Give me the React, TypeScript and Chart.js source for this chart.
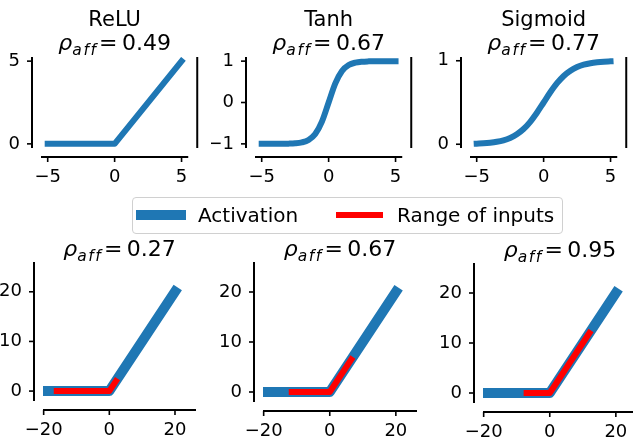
import React, { useEffect, useRef } from "react";
import { Chart, registerables } from "chart.js";

Chart.register(...registerables);

// ---------------- data ----------------
const topTitles = ["ReLU", "Tanh", "Sigmoid"];
const topRho = ["0.49", "0.67", "0.77"];
const bottomRho = ["0.27", "0.67", "0.95"];

const reluTopX = [-5, 0, 5];
const reluTopY = [0, 0, 5];

const curveX = [-5, -4.5, -4, -3.5, -3, -2.5, -2, -1.5, -1, -0.5, 0, 0.5, 1, 1.5, 2, 2.5, 3, 3.5, 4, 4.5, 5];
const tanhY = [-1.0, -1.0, -0.999, -0.998, -0.995, -0.987, -0.964, -0.905, -0.762, -0.462, 0, 0.462, 0.762, 0.905, 0.964, 0.987, 0.995, 0.998, 0.999, 1.0, 1.0];
const sigmoidY = [0.007, 0.011, 0.018, 0.029, 0.047, 0.076, 0.119, 0.182, 0.269, 0.378, 0.5, 0.622, 0.731, 0.818, 0.881, 0.924, 0.953, 0.971, 0.982, 0.989, 0.993];

const reluBottomX = [-20, 0, 20];
const reluBottomY = [0, 0, 20];
const inputLows = [-16, -11.5, -7];
const inputHighs = [2, 6.5, 12];

const topXTicks = [-5, 0, 5];
const reluYTicks = [0, 5];
const tanhYTicks = [-1, 0, 1];
const sigmoidYTicks = [0, 1];
const bottomXTicks = [-20, 0, 20];
const bottomYTicks = [0, 10, 20];

const topXLim = [-5.5, 5.5];
const reluYLim = [-0.25, 5.25];
const tanhYLim = [-1.1, 1.1];
const sigmoidYLim = [-0.045, 1.045];
const bottomXLim = [-20.2, 26.4];
const bottomYLim = [-2, 26];

// ---------------- styling ----------------
const BLUE = "#1f77b4";
const RED = "#ff0000";
const FONT = '"DejaVu Sans", "Liberation Sans", sans-serif';
const PAD_L = 44;
const PAD_T = 58;
const PAD_R = 16;
const PAD_B = 46;

type Box = { l: number; t: number; r: number; b: number };

const fmt = (v: number) => {
  const s = String(v);
  return s.startsWith("-") ? "\u2212" + s.slice(1) : s;
};

const spinePlugin = {
  id: "spines",
  afterDraw(chart: any, _args: any, o: any) {
    const { ctx, chartArea: a } = chart;
    const off = o.offset;
    const tl = o.tickLen;
    const line = (x1: number, y1: number, x2: number, y2: number) => {
      ctx.beginPath();
      ctx.moveTo(x1, y1);
      ctx.lineTo(x2, y2);
      ctx.stroke();
    };
    ctx.save();
    ctx.strokeStyle = "#000";
    ctx.lineCap = "butt";
    ctx.lineWidth = o.width;
    const lx = a.left - off;
    const by = a.bottom + off;
    line(lx, a.top, lx, a.bottom);
    line(a.left, by, a.right, by);
    if (o.right) line(a.right + off, a.top, a.right + off, a.bottom);
    ctx.lineWidth = o.tickWidth;
    const ys = chart.scales.y;
    const xs = chart.scales.x;
    for (const t of ys.ticks) {
      const y = ys.getPixelForValue(t.value);
      line(lx - tl, y, lx, y);
    }
    for (const t of xs.ticks) {
      const x = xs.getPixelForValue(t.value);
      line(x, by, x, by + tl);
    }
    ctx.restore();
  },
};

const titlePlugin = {
  id: "mtitle",
  afterDraw(chart: any, _args: any, o: any) {
    const { ctx, chartArea: a } = chart;
    const cx = (a.left + a.right) / 2;
    const base = a.top - o.gap;
    ctx.save();
    ctx.fillStyle = "#000";
    ctx.textBaseline = "alphabetic";
    if (o.name) {
      ctx.font = `21px ${FONT}`;
      ctx.textAlign = "center";
      ctx.fillText(o.name, cx, base - 24);
    }
    ctx.textAlign = "left";
    const fMain = `italic 22px ${FONT}`;
    const fSub = `italic 15.5px ${FONT}`;
    const fNum = `22px ${FONT}`;
    const sub = "aff";
    const subSp = 1.6;
    ctx.font = fMain;
    const wRho = ctx.measureText("\u03c1").width;
    ctx.font = fSub;
    const subW = sub.split("").map((c: string) => ctx.measureText(c).width);
    const wSub = subW.reduce((s: number, w: number) => s + w + subSp, 0);
    ctx.font = fNum;
    const wEq = ctx.measureText("=").width;
    const gapPre = 1.5;
    const gap = 4.5;
    const wNum = ctx.measureText(o.rho).width;
    const total = wRho + wSub + gapPre + wEq + gap + wNum;
    let x = cx - total / 2;
    ctx.font = fMain;
    ctx.fillText("\u03c1", x, base);
    x += wRho;
    ctx.font = fSub;
    sub.split("").forEach((c: string, i: number) => {
      ctx.fillText(c, x, base + 4.5);
      x += subW[i] + subSp;
    });
    x += gapPre;
    ctx.font = fNum;
    ctx.fillText("=", x, base);
    x += wEq + gap;
    ctx.fillText(o.rho, x, base);
    ctx.restore();
  },
};

type PanelProps = {
  box: Box;
  datasets: any[];
  xlim: number[];
  ylim: number[];
  xticks: number[];
  yticks: number[];
  name?: string;
  rho: string;
  rightSpine: boolean;
  titleGap: number;
};

function Panel(p: PanelProps) {
  const ref = useRef<HTMLCanvasElement | null>(null);
  const L = p.box.l - PAD_L;
  const T = p.box.t - PAD_T;
  const W = p.box.r - p.box.l + PAD_L + PAD_R;
  const H = p.box.b - p.box.t + PAD_T + PAD_B;

  useEffect(() => {
    if (!ref.current) return;
    const tickFont = { family: FONT, size: 18 };
    const chart = new Chart(ref.current, {
      type: "line",
      data: { datasets: p.datasets },
      options: {
        animation: false,
        responsive: false,
        maintainAspectRatio: false,
        events: [],
        layout: { padding: { left: 0, top: PAD_T, right: PAD_R, bottom: 0 } },
        scales: {
          x: {
            type: "linear",
            position: "bottom",
            min: p.xlim[0],
            max: p.xlim[1],
            grid: { display: false, drawTicks: false },
            border: { display: false },
            ticks: {
              autoSkip: false,
              maxRotation: 0,
              padding: 19,
              color: "#000",
              font: tickFont,
              callback: (v: any) => fmt(Number(v)),
            },
            afterBuildTicks: (s: any) => {
              s.ticks = p.xticks.map((v) => ({ value: v }));
            },
            afterFit: (s: any) => {
              s.height = PAD_B;
            },
          },
          y: {
            type: "linear",
            position: "left",
            min: p.ylim[0],
            max: p.ylim[1],
            grid: { display: false, drawTicks: false },
            border: { display: false },
            ticks: {
              autoSkip: false,
              padding: 21,
              color: "#000",
              font: tickFont,
              callback: (v: any) => fmt(Number(v)),
            },
            afterBuildTicks: (s: any) => {
              s.ticks = p.yticks.map((v) => ({ value: v }));
            },
            afterFit: (s: any) => {
              s.width = PAD_L;
            },
          },
        },
        plugins: {
          legend: { display: false },
          tooltip: { enabled: false },
          spines: { offset: 9, tickLen: 5, width: 2, tickWidth: 1.6, right: p.rightSpine },
          mtitle: { name: p.name, rho: p.rho, gap: p.titleGap },
        } as any,
      },
      plugins: [spinePlugin, titlePlugin],
    });
    return () => chart.destroy();
  }, []);

  return (
    <canvas
      ref={ref}
      width={W}
      height={H}
      style={{ position: "absolute", left: L, top: T, width: W, height: H }}
    />
  );
}

const pts = (xs: number[], ys: number[]) => xs.map((x, i) => ({ x, y: ys[i] }));

const topLine = (data: any[], smooth: boolean) => ({
  data,
  borderColor: BLUE,
  borderWidth: 6,
  pointRadius: 0,
  borderCapStyle: "square",
  borderJoinStyle: "round",
  fill: false,
  cubicInterpolationMode: smooth ? "monotone" : "default",
  tension: 0,
});

const topBoxes: Box[] = [
  { l: 41, t: 57, r: 191, b: 148 },
  { l: 255, t: 57, r: 405, b: 148 },
  { l: 470, t: 57, r: 620, b: 148 },
];
const bottomBoxes: Box[] = [
  { l: 43, t: 262, r: 196, b: 401 },
  { l: 263, t: 262, r: 417, b: 402 },
  { l: 483, t: 263, r: 637, b: 403 },
];

export default function App() {
  const topData = [
    { data: pts(reluTopX, reluTopY), smooth: false, yticks: reluYTicks, ylim: reluYLim },
    { data: pts(curveX, tanhY), smooth: true, yticks: tanhYTicks, ylim: tanhYLim },
    { data: pts(curveX, sigmoidY), smooth: true, yticks: sigmoidYTicks, ylim: sigmoidYLim },
  ];
  return (
    <div
      style={{
        position: "absolute",
        left: 0,
        top: 0,
        width: 633,
        height: 439,
        overflow: "hidden",
        background: "#fff",
      }}
    >
      {topData.map((d, i) => (
        <Panel
          key={"t" + i}
          box={topBoxes[i]}
          datasets={[topLine(d.data, d.smooth)]}
          xlim={topXLim}
          ylim={d.ylim}
          xticks={topXTicks}
          yticks={d.yticks}
          name={topTitles[i]}
          rho={topRho[i]}
          rightSpine={true}
          titleGap={7}
        />
      ))}
      {bottomRho.map((r, i) => (
        <Panel
          key={"b" + i}
          box={bottomBoxes[i]}
          datasets={[
            {
              data: pts([inputLows[i], 0, inputHighs[i]], [0, 0, inputHighs[i]]),
              borderColor: RED,
              borderWidth: 6,
              pointRadius: 0,
              borderCapStyle: "square",
              borderJoinStyle: "round",
              fill: false,
              tension: 0,
            },
            {
              data: pts(reluBottomX, reluBottomY),
              borderColor: BLUE,
              borderWidth: 10,
              pointRadius: 0,
              borderCapStyle: "square",
              borderJoinStyle: "round",
              fill: false,
              tension: 0,
            },
          ]}
          xlim={bottomXLim}
          ylim={bottomYLim}
          xticks={bottomXTicks}
          yticks={bottomYTicks}
          rho={r}
          rightSpine={false}
          titleGap={6}
        />
      ))}
      <div
        style={{
          position: "absolute",
          left: 132,
          top: 197,
          width: 429,
          height: 35,
          border: "1px solid #d0d0d0",
          borderRadius: 4,
          background: "rgba(255,255,255,0.8)",
          fontFamily: FONT,
          fontSize: 20,
          color: "#000",
        }}
      >
        <div style={{ position: "absolute", left: 3, top: 12, width: 50, height: 10, background: BLUE }} />
        <div style={{ position: "absolute", left: 65, top: 5, lineHeight: "24px", whiteSpace: "nowrap" }}>Activation</div>
        <div style={{ position: "absolute", left: 203, top: 14, width: 47, height: 6, background: RED }} />
        <div style={{ position: "absolute", left: 264, top: 5, lineHeight: "24px", whiteSpace: "nowrap" }}>
          Range of inputs
        </div>
      </div>
    </div>
  );
}
